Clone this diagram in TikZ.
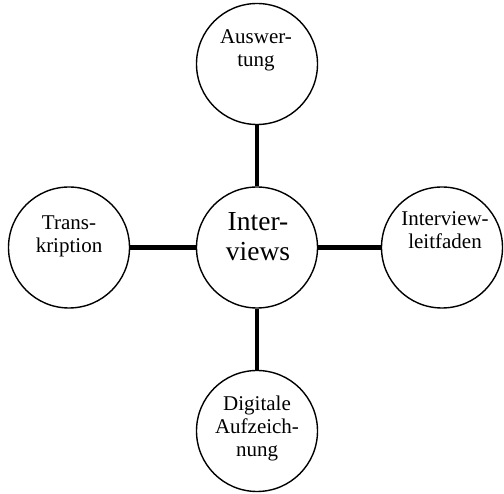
\documentclass[tikz,border=0pt]{standalone}
\usepackage{fontspec}
\setmainfont{Liberation Serif}
\begin{document}
\begin{tikzpicture}[x=1pt,y=-1pt,
  bubble/.style={circle,draw=black,line width=1.4pt,minimum size=121pt,inner sep=0pt},
  small/.style={align=center,inner sep=0pt,font=\fontsize{21}{23}\selectfont},
  big/.style={align=center,inner sep=0pt,font=\fontsize{27.5}{30}\selectfont},
  link/.style={line width=4.5pt,black}]
\useasboundingbox (0,0) rectangle (504,494);
\node[bubble] (c) at (257,247.5) {};
\node[bubble] (t) at (257,64) {};
\node[bubble] (l) at (69,247.5) {};
\node[bubble] (r) at (442,247.5) {};
\node[bubble] (b) at (257,431) {};
\draw[link] (c) -- (t);
\draw[link] (c) -- (l);
\draw[link] (c) -- (r);
\draw[link] (c) -- (b);
\node[big] (ct) at (258,237) {Inter-\\views};
\node[small] (tt) at (256,50) {Auswer-\\tung};
\node[small] (lt) at (69,236) {Trans-\\kription};
\node[small] (rt) at (445,230) {Interview-\\leitfaden};
\node[small] (bt) at (257,428) {Digitale\\Aufzeich-\\nung};
\end{tikzpicture}
\end{document}
